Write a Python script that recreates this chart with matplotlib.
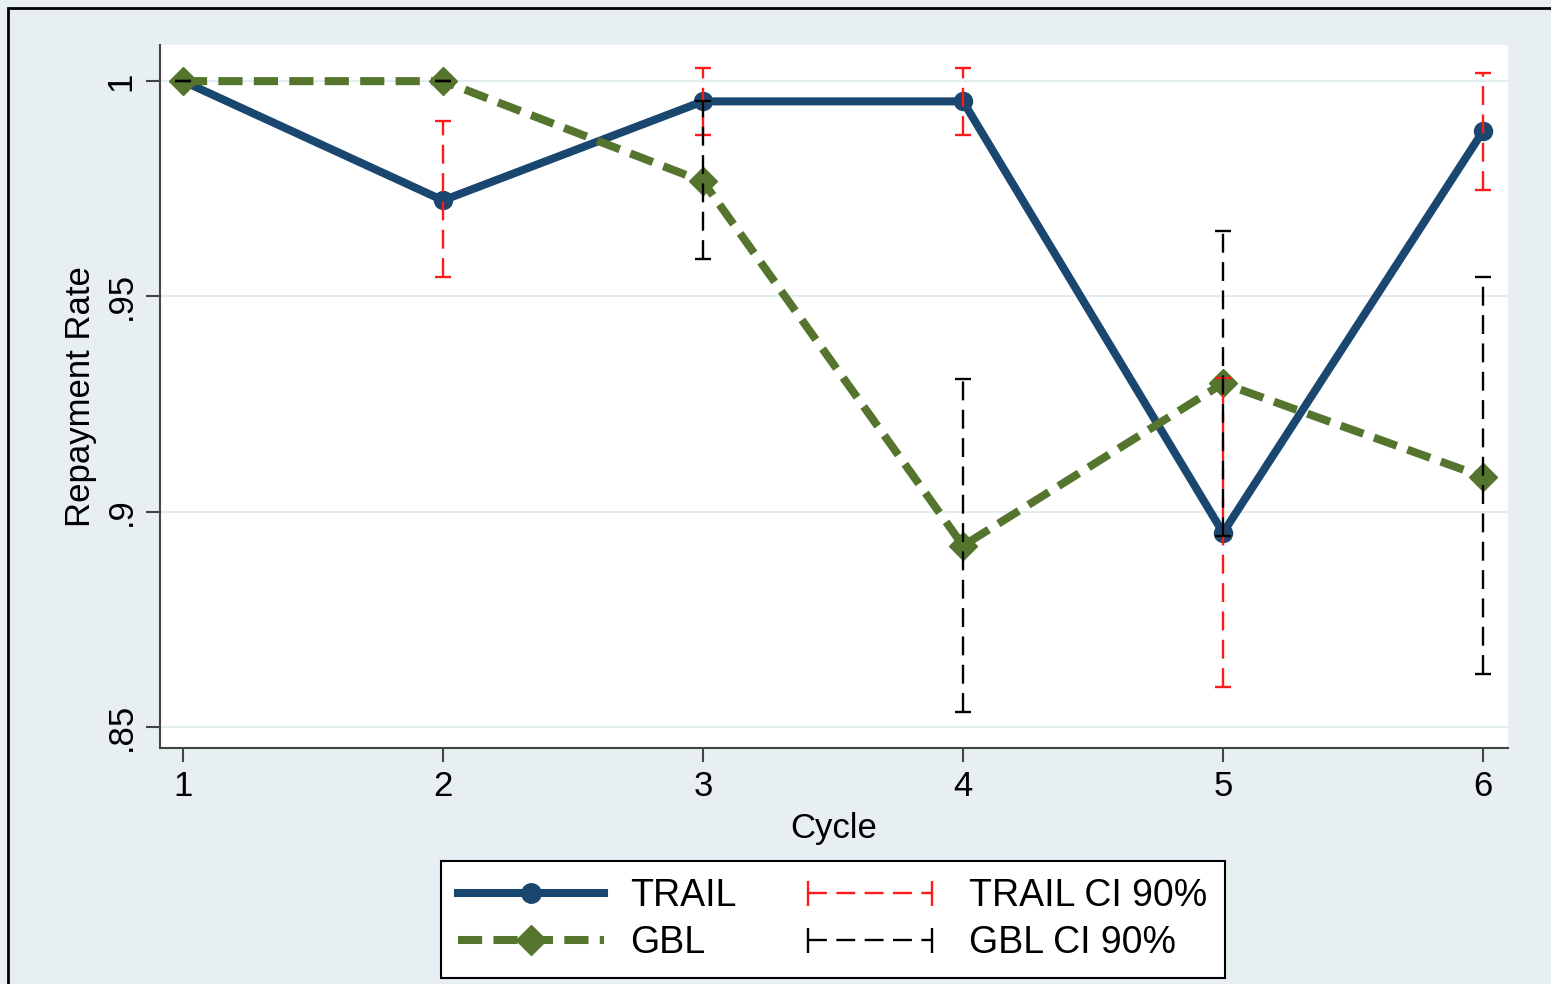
import numpy as np
import matplotlib
matplotlib.use("Agg")
import matplotlib.pyplot as plt
from matplotlib.lines import Line2D
from matplotlib.legend_handler import HandlerLine2D
from matplotlib.patches import Rectangle

plt.rcParams['font.family'] = ['Liberation Sans', 'DejaVu Sans']

cycle = [1, 2, 3, 4, 5, 6]
trail = [1.0, 0.9723, 0.9953, 0.9953, 0.8951, 0.9884]
trail_lo = [1.0, 0.9544, 0.9874, 0.9874, 0.8593, 0.9747]
trail_hi = [1.0, 0.9907, 1.0030, 1.0030, 0.9310, 1.0019]
gbl = [1.0, 1.0, 0.9767, 0.8921, 0.9298, 0.9081]
gbl_lo = [1.0, 1.0, 0.9586, 0.8535, 0.8943, 0.8623]
gbl_hi = [1.0, 1.0, 0.9953, 0.9309, 0.9653, 0.9544]

bg = '#e8eff2'
navy = '#1a476f'
green = '#55752f'
red = '#ff1a1a'
gdash = (0, (3.0, 1.4))
cidash = (0, (8, 4))

fig = plt.figure(figsize=(15.51, 9.84), dpi=100, facecolor=bg)
ax = fig.add_axes([0.1032, 0.2398, 0.8691, 0.7145])
ax.set_facecolor('white')

ax.plot(cycle, trail, color=navy, lw=5.8, marker='o', ms=13, zorder=3)
ax.plot(cycle, gbl, color=green, lw=5.8, ls=gdash, marker='D', ms=14, zorder=3)

t = np.array(trail)
g = np.array(gbl)
# trail CI at cycle 1 has zero width, skip it
eb1 = ax.errorbar(cycle[1:], t[1:], yerr=[t[1:] - np.array(trail_lo[1:]), np.array(trail_hi[1:]) - t[1:]],
                  fmt='none', ecolor=red, elinewidth=1.7, capsize=6, capthick=1.7, zorder=4)
eb1[2][0].set_linestyle(cidash)
eb2 = ax.errorbar(cycle, g, yerr=[g - np.array(gbl_lo), np.array(gbl_hi) - g],
                  fmt='none', ecolor='black', elinewidth=1.7, capsize=6, capthick=1.7, zorder=5)
eb2[2][0].set_linestyle(cidash)

ax.set_xlim(0.912, 6.096)
ax.set_ylim(0.8451, 1.0084)
ax.set_xticks(cycle)
ax.set_yticks([0.85, 0.9, 0.95, 1.0])
ax.set_yticklabels(['.85', '.9', '.95', '1'], rotation=90, va='center')
ax.grid(axis='y', color='#e3ecef', lw=1.5)
ax.set_axisbelow(True)
for s in ['top', 'right']:
    ax.spines[s].set_visible(False)
for s in ['left', 'bottom']:
    ax.spines[s].set_color('#444444')
    ax.spines[s].set_linewidth(1.5)
ax.tick_params(axis='both', direction='out', length=10, width=1.5, color='#444444', labelsize=25, pad=6)
ax.set_xlabel('Cycle', fontsize=25, labelpad=6)
ax.set_ylabel('Repayment Rate', fontsize=25, labelpad=6)

h1 = Line2D([0], [0], color=navy, lw=5.8, marker='o', ms=14)
h2 = Line2D([0], [0], color=green, lw=5.8, ls=gdash, marker='D', ms=15)
h3 = Line2D([0], [0], color=red, lw=1.7, ls=cidash, marker='|', ms=18, mew=1.7)
h4 = Line2D([0], [0], color='black', lw=1.7, ls=cidash, marker='|', ms=18, mew=1.7)
leg = fig.legend([h1, h2, h3, h4], ['TRAIL', 'GBL', 'TRAIL CI 90%', 'GBL CI 90%'],
                 loc='center', bbox_to_anchor=(0.537, 0.0655), ncol=2, fontsize=27,
                 handlelength=3.9, handletextpad=0.7, columnspacing=1.6, labelspacing=0.3,
                 frameon=True, fancybox=False, edgecolor='black', facecolor='white',
                 framealpha=1, borderpad=0.45,
                 handler_map={h3: HandlerLine2D(numpoints=2), h4: HandlerLine2D(numpoints=2)})
leg.get_frame().set_linewidth(1.5)

fig.patches.append(Rectangle((8 / 1551, -0.01), 1.1, 1 - 8 / 984 + 0.01, transform=fig.transFigure,
                             fill=False, edgecolor='black', lw=2))

fig.savefig('out.png', dpi=100, facecolor=bg)
